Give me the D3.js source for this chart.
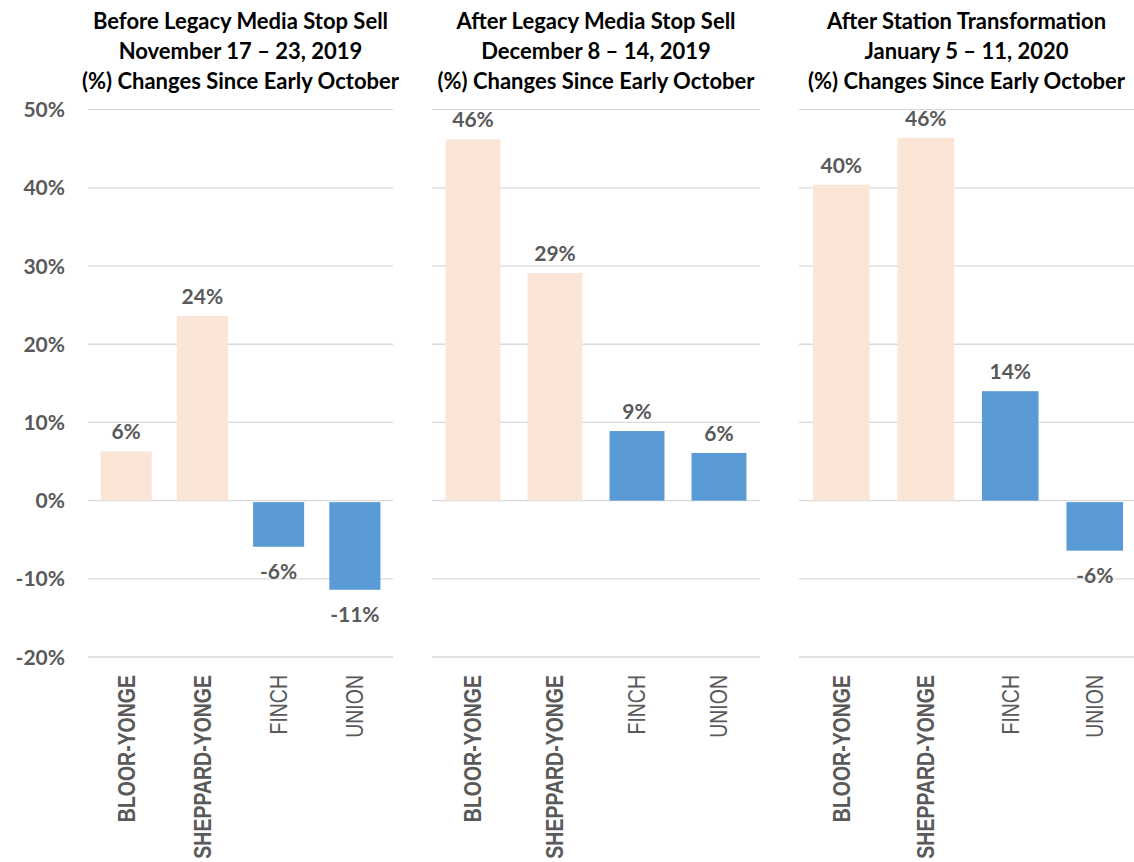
<!DOCTYPE html>
<html>
<head>
<meta charset="utf-8">
<script src="https://cdn.jsdelivr.net/npm/d3@7"></script>
<style>
  body { margin: 0; background: #fff; }
  svg { display: block; }
</style>
</head>
<body>
<svg id="chart" width="1134" height="862"></svg>
<script>
// --- Data ---
const stations = ['BLOOR-YONGE', 'SHEPPARD-YONGE', 'FINCH', 'UNION'];
const treated = [true, true, false, false]; // peach = transformed stations, blue = comparison
const panelTitles = [
  ['Before Legacy Media Stop Sell', 'November 17 \u2013 23, 2019', '(%) Changes Since Early October'],
  ['After Legacy Media Stop Sell', 'December 8 \u2013 14, 2019', '(%) Changes Since Early October'],
  ['After Station Transformation', 'January 5 \u2013 11, 2020', '(%) Changes Since Early October']
];
const beforeStopSell = [6.3, 23.6, -5.9, -11.4];
const afterStopSell = [46.2, 29.1, 8.9, 6.1];
const afterTransform = [40.4, 46.4, 14.0, -6.4];
const panelValues = [beforeStopSell, afterStopSell, afterTransform];
const yTicks = [-20, -10, 0, 10, 20, 30, 40, 50];

// --- Layout ---
const svg = d3.select('#chart');
const panels = [[88, 393], [432, 760], [799, 1137]];
const plotTop = 109.7, plotBottom = 657;
const peach = '#FBE5D6', blue = '#5B9BD5', grid = '#D9D9D9';
const titleFont = 'Lato, "Open Sans", sans-serif';

const y = d3.scaleLinear().domain([-20, 50]).range([plotBottom, plotTop]);

// y tick labels (first panel only)
svg.append('g')
  .selectAll('text')
  .data(yTicks)
  .enter().append('text')
  .attr('x', 65)
  .attr('y', d => y(d))
  .attr('dy', '0.36em')
  .attr('text-anchor', 'end')
  .attr('font-family', titleFont)
  .attr('font-weight', 'bold')
  .attr('font-size', 21)
  .attr('fill', '#595959')
  .text(d => d + '%');

panels.forEach(([x0, x1], i) => {
  const g = svg.append('g');
  const x = d3.scaleBand().domain(stations).range([x0, x1]).paddingInner(0.33).paddingOuter(0.165);
  const vals = panelValues[i];

  // gridlines
  g.append('g')
    .selectAll('line')
    .data(yTicks)
    .enter().append('line')
    .attr('x1', x0).attr('x2', x1)
    .attr('y1', d => y(d)).attr('y2', d => y(d))
    .attr('stroke', grid)
    .attr('stroke-width', 1.3);

  // bars
  g.append('g')
    .selectAll('rect')
    .data(stations)
    .enter().append('rect')
    .attr('x', d => x(d))
    .attr('width', x.bandwidth())
    .attr('y', (d, j) => vals[j] >= 0 ? y(vals[j]) : y(0) + 1.5)
    .attr('height', (d, j) => vals[j] >= 0 ? y(0) - y(vals[j]) : y(vals[j]) - y(0) - 1.5)
    .attr('fill', (d, j) => treated[j] ? peach : blue);

  // data labels
  g.append('g')
    .selectAll('text')
    .data(stations)
    .enter().append('text')
    .attr('x', d => x(d) + x.bandwidth() / 2)
    .attr('y', (d, j) => vals[j] >= 0 ? y(vals[j]) - 12 : y(vals[j]) + 32)
    .attr('text-anchor', 'middle')
    .attr('font-family', titleFont)
    .attr('font-weight', 'bold')
    .attr('font-size', 21)
    .attr('fill', '#595959')
    .text((d, j) => Math.round(vals[j]) + '%');

  // category labels, rotated
  g.append('g')
    .selectAll('text')
    .data(stations)
    .enter().append('text')
    .attr('transform', d => `translate(${x(d) + x.bandwidth() / 2},675) rotate(-90) scale(1,1.2)`)
    .attr('dy', '0.36em')
    .attr('text-anchor', 'end')
    .attr('font-family', '"Liberation Sans", Arial, sans-serif')
    .attr('font-weight', (d, j) => j < 2 ? 'bold' : 'normal')
    .attr('font-size', 19.5)
    .attr('fill', '#595959')
    .text(d => d);

  // title
  const cx = (x0 + Math.min(x1, 1134)) / 2;
  g.append('g')
    .selectAll('text')
    .data(panelTitles[i])
    .enter().append('text')
    .attr('x', cx)
    .attr('y', (d, k) => 29 + k * 30)
    .attr('text-anchor', 'middle')
    .attr('font-family', titleFont)
    .attr('font-weight', 'bold')
    .attr('font-size', 22)
    .attr('fill', '#000')
    .text(d => d);
});
</script>
</body>
</html>
